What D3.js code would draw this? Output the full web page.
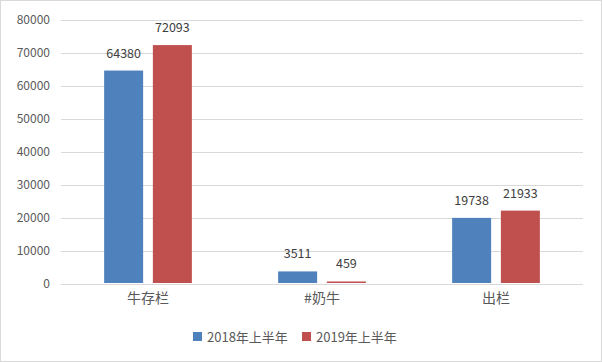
<!DOCTYPE html>
<head>
  <meta charset="utf-8">
  <script src="https://d3js.org/d3.v7.min.js"></script>
  <style>
    body{ margin: 0; }
    text{
      font-family: "Noto Sans CJK SC", "Open Sans", sans-serif;
      fill: #595959;
    }
    text.valueLabel{ font-size: 12.5px; fill: #404040; }
    .yAxis .tick text{ font-size: 12px; }
    .xAxis .tick text{ font-size: 14px; }
    text.legend{ font-size: 13px; }
    .tick line{ stroke: #d9d9d9; shape-rendering: crispEdges; }
    path.domain{ display: none; }
  </style>
</head>
<body>
<script>
  // data
  var categories = ['牛存栏', '#奶牛', '出栏'];
  var seriesNames = ['2018年上半年', '2019年上半年'];
  var values2018 = [64380, 3511, 19738];
  var values2019 = [72093, 459, 21933];
  var yTicks = [0, 10000, 20000, 30000, 40000, 50000, 60000, 70000, 80000];
  var colours = ['#4f81bd', '#c0504d'];

  var width = 602, height = 362;
  var margin = {top: 19, right: 19, bottom: 79, left: 61};

  var svg = d3.select('body').append('svg')
    .attr('width', width)
    .attr('height', height);

  svg.append('rect')
    .attr('x', 0.5).attr('y', 0.5)
    .attr('width', width-1).attr('height', height-1)
    .style('fill', '#fff')
    .style('stroke', '#d9d9d9');

  var x = d3.scaleBand()
    .domain(categories)
    .range([margin.left, width-margin.right]);

  var x1 = d3.scaleBand()
    .domain(seriesNames)
    .range([0, x.bandwidth()])
    .paddingInner(0.2)
    .paddingOuter(0.885);

  var y = d3.scaleLinear()
    .domain([0, 80000])
    .range([height-margin.bottom, margin.top]);

  // gridlines + y labels
  svg.append('g')
    .attr('class', 'yAxis')
    .attr('transform', `translate(${margin.left},0.5)`)
    .call(d3.axisLeft(y).tickValues(yTicks).tickSize(-(width-margin.left-margin.right)).tickPadding(11).tickFormat(d3.format('d')));

  svg.append('g')
    .attr('class', 'xAxis')
    .attr('transform', `translate(0,${y(0)})`)
    .call(d3.axisBottom(x).tickSize(0).tickPadding(10));

  var rows = categories.map((c, i) => ({cat: c, vals: [values2018[i], values2019[i]]}));

  var groups = svg.selectAll('g.group')
    .data(rows)
    .enter()
    .append('g')
    .attr('class', 'group')
    .attr('transform', d => `translate(${x(d.cat)},0)`);

  var cells = groups.selectAll('g.cell')
    .data(d => d.vals.map((v, j) => ({name: seriesNames[j], value: v, j: j})))
    .enter()
    .append('g');

  cells.append('rect')
    .attr('x', d => x1(d.name))
    .attr('width', x1.bandwidth())
    .attr('y', d => y(d.value))
    .attr('height', d => y(0)-y(d.value))
    .style('fill', d => colours[d.j]);

  cells.append('text')
    .attr('class', 'valueLabel')
    .attr('x', d => x1(d.name)+x1.bandwidth()/2)
    .attr('y', d => y(d.value)-13)
    .style('text-anchor', 'middle')
    .text(d => d.value);

  // legend
  var legend = svg.append('g').attr('transform', 'translate(193,337)');
  var lx = [0, 109];
  seriesNames.forEach((n, i) => {
    legend.append('rect')
      .attr('x', lx[i]).attr('y', -5)
      .attr('width', 9).attr('height', 9)
      .style('fill', colours[i]);
    legend.append('text')
      .attr('class', 'legend')
      .attr('x', lx[i]+14).attr('y', 0)
      .attr('dy', '0.35em')
      .text(n);
  });
</script>
</body>
